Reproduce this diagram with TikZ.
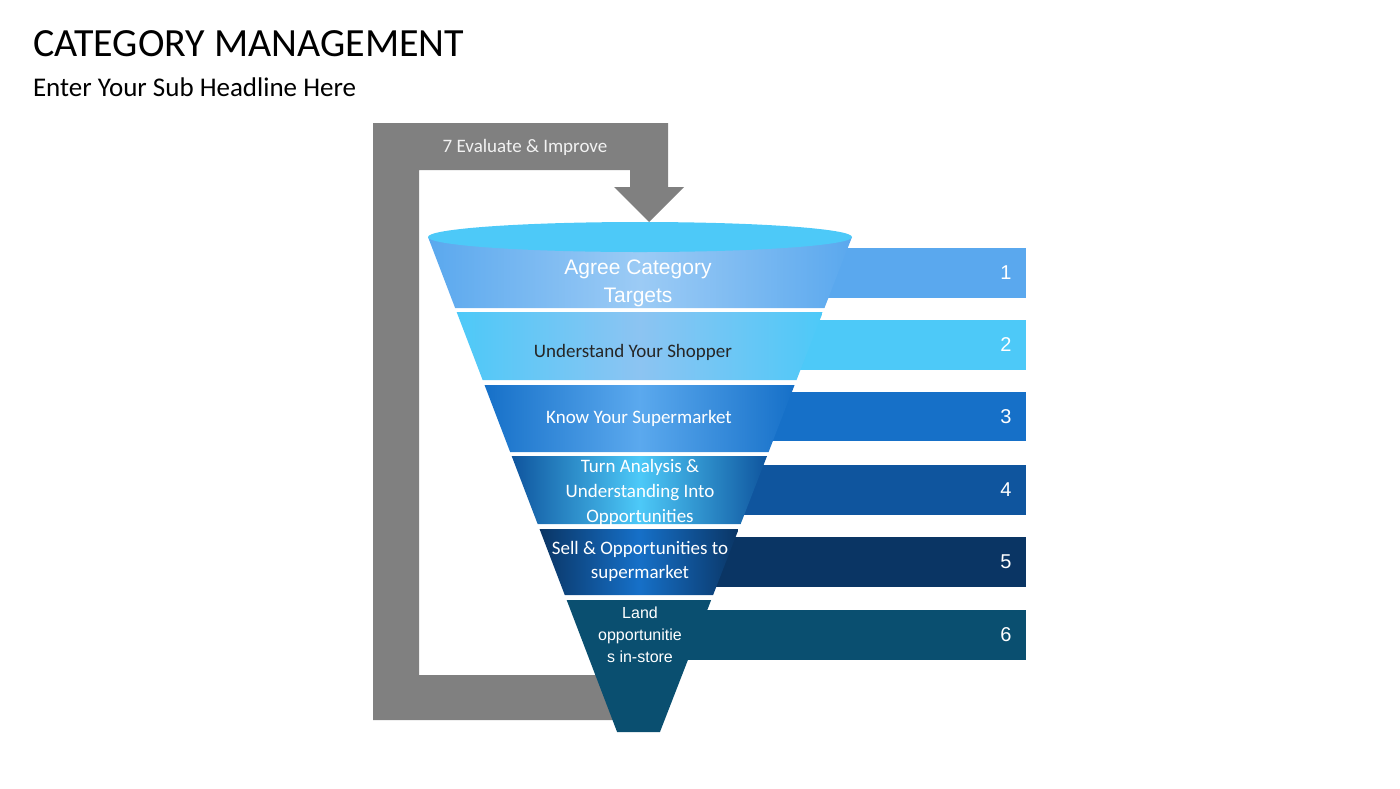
\documentclass[tikz,border=0pt]{standalone}
\usepackage{fontspec}
\setmainfont{Carlito}
\newfontfamily\arialfont{Liberation Sans}
\definecolor{loopgray}{HTML}{808080}
\definecolor{segA}{HTML}{5AA8EE}
\definecolor{segB}{HTML}{4DC9F8}
\definecolor{segC}{HTML}{1670C8}
\definecolor{segD}{HTML}{0F559E}
\definecolor{segE}{HTML}{0A3564}
\definecolor{segF}{HTML}{0A4F70}
\definecolor{midA}{HTML}{9CCBF5}
\definecolor{midB}{HTML}{8CC4F2}
\definecolor{midC}{HTML}{5BA9EE}
\definecolor{midD}{HTML}{4DC9F8}
\definecolor{midE}{HTML}{1670C8}
\definecolor{midF}{HTML}{0A4F70}
\tikzset{
  numlabel/.style={text=white,font=\arialfont\fontsize{10}{12}\selectfont},
  seglabel/.style={align=center,font=\fontsize{9.5}{12}\selectfont}
}
\begin{document}
\begin{tikzpicture}[x=0.5pt,y=-0.5pt]
  \useasboundingbox (0,0) rectangle (1400,788);
  % headings
  \node[anchor=base west,font=\fontsize{20}{24}\selectfont] (title) at (26,56) {CATEGORY MANAGEMENT};
  \node[anchor=base west,font=\fontsize{13.5}{16}\selectfont] (subtitle) at (26,96) {Enter Your Sub Headline Here};

  % feedback loop
  \fill[loopgray] (373,123) -- (668,123) -- (668,187) -- (684,187) -- (649,222) -- (614,187)
    -- (630,187) -- (630,170) -- (419,170) -- (419,675) -- (640,675) -- (640,720) -- (373,720) -- cycle;
  \node[text=white!90!gray,font=\fontsize{9.5}{12}\selectfont] (loop) at (525,147) {7 Evaluate \& Improve};

  % bars and funnel segments
  \foreach \ya/\yb/\ba/\bb/\col/\mid/\n in {237/308/248/298/segA/midA/1, 312/380/320/370/segB/midB/2,
      385/452/392/441/segC/midC/3, 456/524/465/515/segD/midD/4, 529/595/537/587/segE/midE/5,
      600/732/610/660/segF/midF/6}
  {
    \pgfmathsetmacro\la{428+0.382*(\ya-237)}
    \pgfmathsetmacro\lb{428+0.382*(\yb-237)}
    \pgfmathsetmacro\ra{852-0.388*(\ya-237)}
    \pgfmathsetmacro\rb{852-0.388*(\yb-237)}
    \fill[\col] (\ra-30,\ba) rectangle (1026,\bb);
    \shade[left color=\col,right color=\col,middle color=\mid] (\la,\ya) -- (\ra,\ya) -- (\rb,\yb) -- (\lb,\yb) -- cycle;
    \node[numlabel] (num\n) at (1006,{(\ba+\bb)/2}) {\n};
  }
  \fill[segB] (640,237) ellipse [x radius=212,y radius=15];

  % funnel texts
  \node[seglabel,text=white,font=\arialfont\fontsize{10.5}{14}\selectfont] (stepA) at (638,283) {Agree Category\\Targets};
  \node[seglabel,text=black!85] (stepB) at (633,352) {Understand Your Shopper};
  \node[seglabel,text=white] (stepC) at (639,418) {Know Your Supermarket};
  \node[seglabel,text=white,font=\fontsize{9.5}{12.5}\selectfont] (stepD) at (640,492) {Turn Analysis \&\\Understanding Into\\Opportunities};
  \node[seglabel,text=white] (stepE) at (640,561) {Sell \& Opportunities to\\supermarket};
  \node[seglabel,text=white,font=\arialfont\fontsize{8}{11}\selectfont] (stepF) at (640,635) {Land\\opportunitie\\s in-store};
\end{tikzpicture}
\end{document}
